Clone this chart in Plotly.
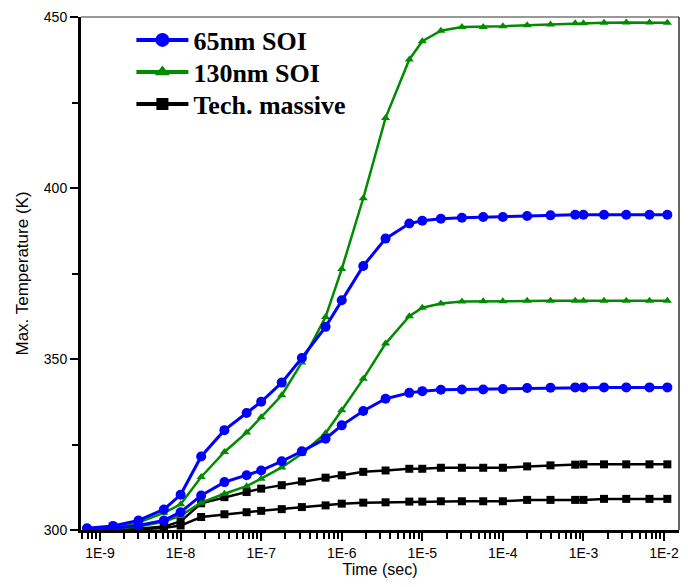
import plotly.graph_objects as go

# Time points (sec)
time_s = [6.9e-10, 1.45e-9, 3e-9, 6.2e-9, 1e-8, 1.8e-8, 3.5e-8, 6.6e-8, 1e-7, 1.8e-7,
          3.2e-7, 6.3e-7, 1e-6, 1.85e-6, 3.5e-6, 6.9e-6, 1e-5, 1.7e-5, 3.1e-5, 5.7e-5,
          1e-4, 2e-4, 3.9e-4, 7.9e-4, 1e-3, 1.8e-3, 3.4e-3, 6.6e-3, 1.1e-2]

soi65_high = [300.5, 301.2, 302.8, 306.0, 310.3, 321.5, 329.2, 334.2, 337.5, 343.1,
              350.3, 359.4, 367.2, 377.2, 385.2, 389.6, 390.4, 391.0, 391.3, 391.5,
              391.5, 391.8, 392.0, 392.2, 392.2, 392.2, 392.2, 392.2, 392.2]
soi65_low = [300.3, 300.5, 301.3, 302.8, 305.2, 310.1, 314.0, 316.0, 317.4, 320.1,
             323.0, 326.7, 330.6, 334.8, 338.4, 340.1, 340.6, 341.0, 341.1, 341.1,
             341.2, 341.5, 341.6, 341.7, 341.7, 341.7, 341.7, 341.7, 341.7]
soi130_high = [300.3, 300.8, 302.2, 305.0, 307.5, 315.5, 322.8, 328.5, 333.0, 339.4,
               349.0, 362.3, 376.3, 397.0, 420.5, 437.6, 442.9, 446.0, 447.1, 447.1,
               447.3, 447.6, 447.8, 448.2, 448.2, 448.3, 448.4, 448.4, 448.3]
soi130_low = [300.2, 300.4, 301.0, 302.4, 304.2, 308.0, 310.6, 312.8, 315.0, 318.3,
              322.3, 328.3, 335.0, 344.2, 354.5, 362.5, 365.0, 366.2, 366.8, 366.9,
              366.9, 367.0, 367.0, 367.0, 367.0, 367.0, 367.0, 367.0, 367.0]
massive_high = [300.0, 300.1, 300.4, 301.0, 302.5, 307.8, 309.6, 311.1, 312.1, 313.1,
                314.2, 315.3, 316.0, 317.0, 317.4, 317.9, 317.9, 318.2, 318.2, 318.2,
                318.2, 318.6, 318.9, 319.1, 319.2, 319.2, 319.2, 319.2, 319.2]
massive_low = [300.0, 300.0, 300.2, 300.6, 301.3, 303.8, 304.6, 305.2, 305.6, 306.1,
               306.7, 307.2, 307.7, 308.0, 308.1, 308.3, 308.3, 308.4, 308.4, 308.4,
               308.4, 308.8, 308.8, 308.8, 308.8, 309.1, 309.1, 309.1, 309.1]

x_tick_vals = [1e-9, 1e-8, 1e-7, 1e-6, 1e-5, 1e-4, 1e-3, 1e-2]
x_tick_text = ["1E-9", "1E-8", "1E-7", "1E-6", "1E-5", "1E-4", "1E-3", "1E-2"]
y_tick_vals = [300, 350, 400, 450]

BLUE = "#0000FF"
GREEN = "#008C00"
BLACK = "#000000"

series = [
    ("65nm SOI", [soi65_high, soi65_low], BLUE, "circle", 10, 3, "legend"),
    ("130nm SOI", [soi130_high, soi130_low], GREEN, "triangle-up", 8, 2.5, "legend2"),
    ("Tech. massive", [massive_high, massive_low], BLACK, "square", 8, 2.5, "legend3"),
]

fig = go.Figure()
# draw order: black at bottom, then green, then blue
for name, curves, color, sym, msize, lw, lg in reversed(series):
    for ys in curves:
        fig.add_trace(go.Scatter(
            x=time_s, y=ys, mode="lines+markers", name=name, showlegend=False,
            line=dict(color=color, width=lw),
            marker=dict(symbol=sym, size=msize, color=color),
        ))

legend_sizes = {"circle": 14, "triangle-up": 13, "square": 12}
for name, curves, color, sym, msize, lw, lg in series:
    fig.add_trace(go.Scatter(
        x=[None], y=[None], mode="lines+markers", name=name, legend=lg,
        line=dict(color=color, width=4),
        marker=dict(symbol=sym, size=legend_sizes[sym], color=color),
    ))

minor_x = []
for e in range(-10, -1):
    for m in range(2, 10):
        v = m * 10.0 ** e
        if 5.9e-10 <= v <= 1.45e-2:
            minor_x.append(v)

legend_font = dict(family="Liberation Serif, Times New Roman, serif", size=26,
                   color="black", weight="bold")


def legend_box(ypos):
    return dict(x=0.0843, y=ypos, xanchor="left", yanchor="middle",
                bgcolor="rgba(0,0,0,0)", borderwidth=0, font=legend_font,
                itemwidth=52)


fig.update_layout(
    width=680, height=571,
    margin=dict(l=73, r=9, t=9, b=49, autoexpand=False),
    paper_bgcolor="white", plot_bgcolor="white",
    font=dict(family="Liberation Sans, Arial, sans-serif", size=14, color="black"),
    showlegend=True,
    legend=legend_box(0.9552),
    legend2=legend_box(0.8928),
    legend3=legend_box(0.8304),
    xaxis=dict(
        type="log", range=[-9.236, -1.814], automargin=False,
        tickmode="array", tickvals=x_tick_vals, ticktext=x_tick_text,
        ticks="outside", ticklen=8, tickwidth=2, tickcolor="black",
        minor=dict(tickmode="array", tickvals=minor_x, ticks="outside",
                   ticklen=6, tickwidth=2, tickcolor="black", showgrid=False),
        showline=True, linecolor="black", linewidth=3,
        showgrid=False, zeroline=False,
        title=dict(text="Time (sec)", font=dict(size=16), standoff=4),
        tickfont=dict(size=14),
        ticklabeloverflow="allow",
    ),
    yaxis=dict(
        range=[300, 450], automargin=False,
        tickmode="array", tickvals=y_tick_vals,
        ticks="outside", ticklen=8, tickwidth=2, tickcolor="black",
        minor=dict(dtick=25, tick0=300, ticks="outside", ticklen=6, tickwidth=2,
                   tickcolor="black", showgrid=False),
        showline=True, linecolor="black", linewidth=3,
        showgrid=False, zeroline=False,
        title=dict(text="Max. Temperature (K)", font=dict(size=17), standoff=11),
        tickfont=dict(size=14),
    ),
    shapes=[
        dict(type="line", xref="paper", yref="paper", x0=0, x1=1, y0=1, y1=1,
             line=dict(color="#333333", width=1)),
        dict(type="line", xref="paper", yref="paper", x0=1, x1=1, y0=0, y1=1,
             line=dict(color="#333333", width=1.5)),
    ],
)

fig.write_html("out.html")
